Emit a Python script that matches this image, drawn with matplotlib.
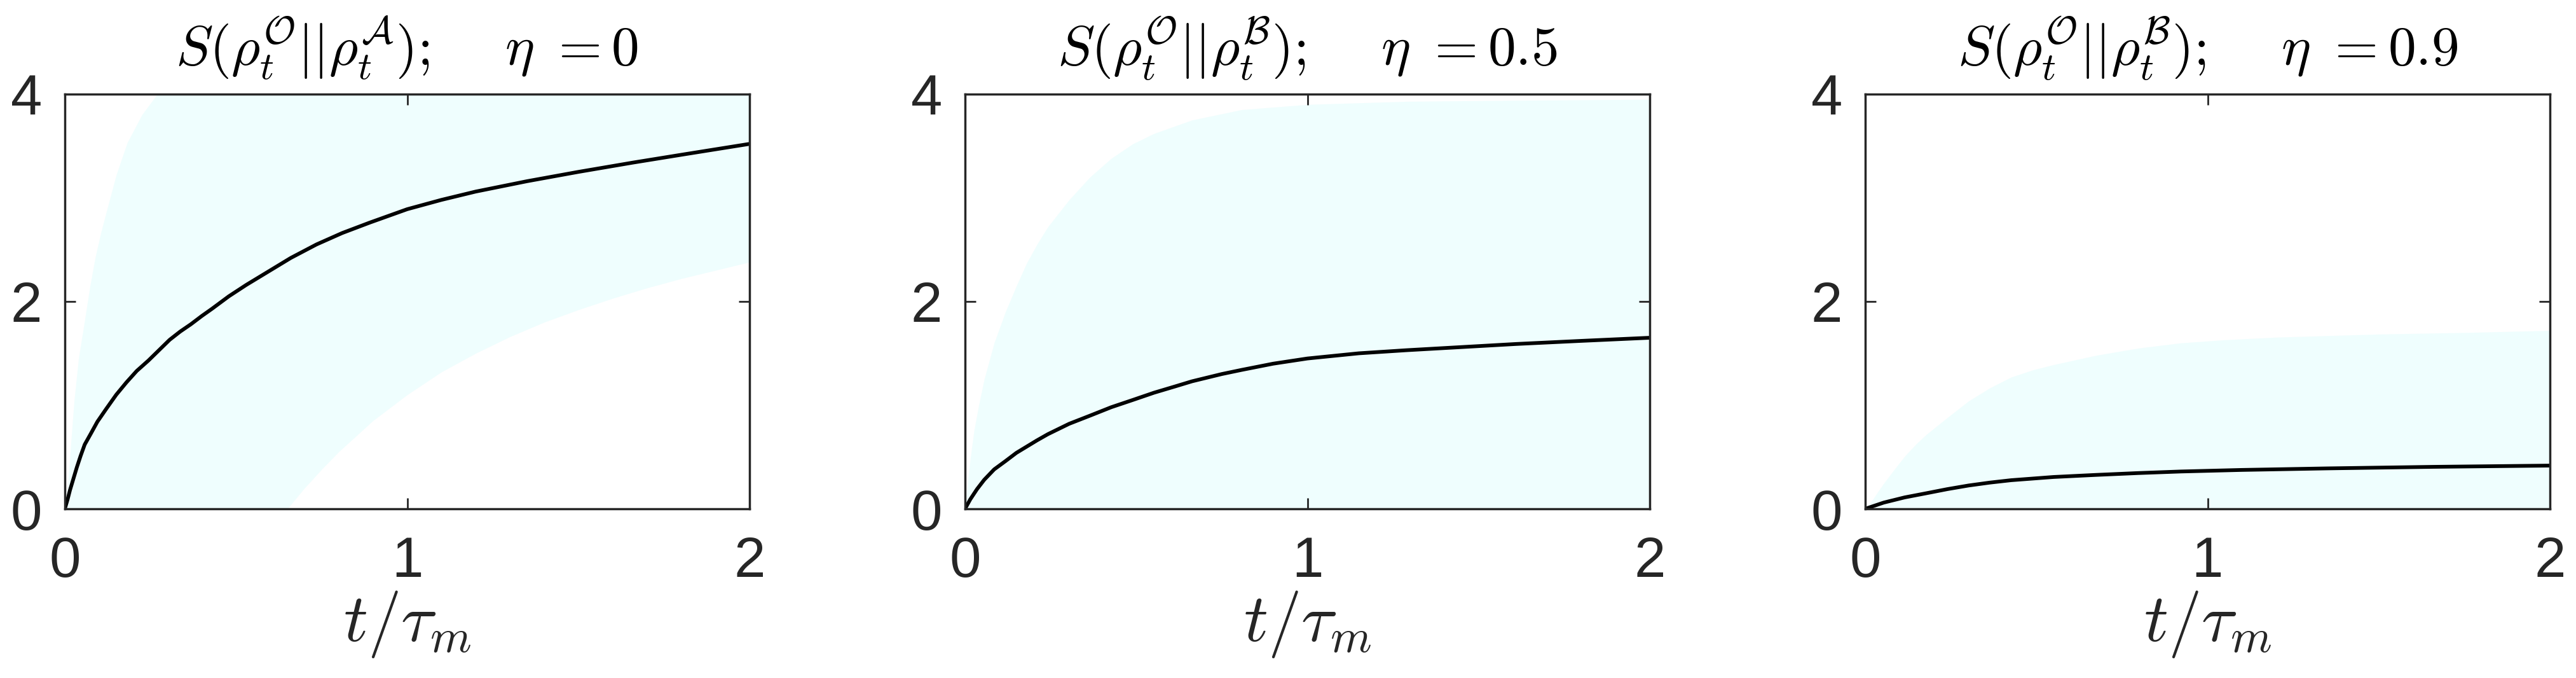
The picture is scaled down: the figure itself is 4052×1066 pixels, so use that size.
import matplotlib
matplotlib.use("Agg")
import matplotlib.pyplot as plt

plt.rcParams['font.family'] = ['Liberation Sans', 'DejaVu Sans']
plt.rcParams['mathtext.fontset'] = 'cm'

# panel 1: eta = 0  (O vs A)
t1_mean = [0, 0.008, 0.015, 0.025, 0.035, 0.046, 0.058, 0.075, 0.095, 0.12, 0.15, 0.18, 0.21, 0.244, 0.275, 0.306,
           0.337, 0.368, 0.4, 0.43, 0.479, 0.53, 0.58, 0.66, 0.735, 0.81, 0.89, 1.0, 1.1, 1.2, 1.35, 1.5, 1.66, 1.81, 2.0]
s1_mean = [0, 0.09, 0.18, 0.29, 0.40, 0.51, 0.62, 0.72, 0.84, 0.96, 1.10, 1.22, 1.33, 1.43, 1.53, 1.63,
           1.71, 1.78, 1.86, 1.93, 2.05, 2.16, 2.26, 2.42, 2.55, 2.66, 2.76, 2.89, 2.98, 3.06, 3.16, 3.25, 3.34, 3.42, 3.52]
t1_band = [0, 0.004, 0.009, 0.018, 0.027, 0.04, 0.058, 0.073, 0.089, 0.105, 0.12, 0.15, 0.182, 0.225, 0.27, 0.35,
           0.5, 0.65, 0.7, 0.75, 0.8, 0.9, 1.0, 1.1, 1.2, 1.3, 1.4, 1.5, 1.6, 1.7, 1.8, 1.9, 2.0]
s1_upper = [0, 0.12, 0.25, 0.65, 1.04, 1.45, 1.82, 2.14, 2.43, 2.66, 2.85, 3.22, 3.53, 3.80, 4.0, 4.4,
            4.9, 5.2, 5.3, 5.35, 5.4, 5.5, 5.6, 5.65, 5.7, 5.75, 5.8, 5.85, 5.9, 5.92, 5.95, 5.98, 6.0]
s1_lower = [0, 0, 0, 0, 0, 0, 0, 0, 0, 0, 0, 0, 0, 0, 0, 0,
            0, 0, 0.2, 0.38, 0.55, 0.85, 1.1, 1.32, 1.5, 1.66, 1.8, 1.92, 2.03, 2.13, 2.22, 2.30, 2.38]

# panel 2: eta = 0.5  (O vs B)
t2_mean = [0, 0.015, 0.035, 0.056, 0.085, 0.118, 0.15, 0.18, 0.21, 0.242, 0.304, 0.366, 0.427, 0.49, 0.552, 0.613,
           0.663, 0.75, 0.808, 0.9, 1.0, 1.15, 1.29, 1.45, 1.61, 1.8, 2.0]
s2_mean = [0, 0.09, 0.19, 0.28, 0.38, 0.46, 0.54, 0.60, 0.66, 0.72, 0.82, 0.90, 0.98, 1.05, 1.12, 1.18,
           1.23, 1.30, 1.34, 1.40, 1.45, 1.50, 1.53, 1.56, 1.59, 1.62, 1.65]
t2_band = [0, 0.007, 0.016, 0.026, 0.04, 0.056, 0.085, 0.118, 0.15, 0.18, 0.21, 0.242, 0.304, 0.365, 0.427, 0.49,
           0.552, 0.663, 0.808, 1.0, 1.29, 1.6, 2.0]
s2_upper = [0, 0.25, 0.50, 0.75, 1.00, 1.25, 1.60, 1.90, 2.15, 2.37, 2.55, 2.72, 2.98, 3.20, 3.38, 3.52,
            3.62, 3.75, 3.85, 3.90, 3.93, 3.94, 3.95]
s2_lower = [0] * len(t2_band)

# panel 3: eta = 0.9  (O vs B)
t3_mean = [0, 0.054, 0.115, 0.178, 0.24, 0.302, 0.364, 0.426, 0.55, 0.674, 0.798, 0.922, 1.1, 1.35, 1.66, 2.0]
s3_mean = [0, 0.06, 0.11, 0.15, 0.19, 0.225, 0.253, 0.276, 0.307, 0.327, 0.345, 0.36, 0.375, 0.39, 0.405, 0.417]
t3_band = [0, 0.012, 0.024, 0.038, 0.054, 0.085, 0.116, 0.147, 0.178, 0.24, 0.302, 0.364, 0.426, 0.49, 0.55,
           0.674, 0.798, 0.922, 1.05, 1.2, 1.35, 1.5, 1.75, 2.0]
s3_upper = [0, 0.05, 0.10, 0.17, 0.245, 0.38, 0.51, 0.62, 0.716, 0.88, 1.04, 1.166, 1.27, 1.34, 1.39,
            1.48, 1.55, 1.60, 1.63, 1.655, 1.67, 1.685, 1.70, 1.72]
s3_lower = [0] * len(t3_band)

titles = [r'$S(\rho_t^{\mathcal{O}}||\rho_t^{\mathcal{A}});\quad\;\eta\ {=}0$',
          r'$S(\rho_t^{\mathcal{O}}||\rho_t^{\mathcal{B}});\quad\;\eta\ {=}0.5$',
          r'$S(\rho_t^{\mathcal{O}}||\rho_t^{\mathcal{B}});\quad\;\eta\ {=}0.9$']

panels = [
    (t1_mean, s1_mean, t1_band, s1_lower, s1_upper),
    (t2_mean, s2_mean, t2_band, s2_lower, s2_upper),
    (t3_mean, s3_mean, t3_band, s3_lower, s3_upper),
]

W, H = 4052, 1066
fig = plt.figure(figsize=(W / 100, H / 100), dpi=100)

lefts = [102, 1518, 2934]   # pixel positions of the axes boxes
ax_w, ax_bot, ax_h = 1077, 266, 652

edge = '#262626'
for i, (tm, sm, tb, lo, up) in enumerate(panels):
    ax = fig.add_axes([lefts[i] / W, ax_bot / H, ax_w / W, ax_h / H])
    ax.fill_between(tb, lo, up, color='#effefe', linewidth=0)
    ax.plot(tm, sm, color='black', linewidth=4.2, solid_joinstyle='round')
    ax.set_xlim(0, 2)
    ax.set_ylim(0, 4)
    ax.set_xticks([0, 1, 2])
    ax.set_yticks([0, 2, 4])
    ax.tick_params(direction='in', top=True, right=True, length=12, width=2,
                   color=edge, labelcolor=edge, labelsize=64)
    ax.tick_params(axis='x', pad=30)
    ax.tick_params(axis='y', pad=26)
    for sp in ax.spines.values():
        sp.set_color(edge)
        sp.set_linewidth(2.5)
    ax.set_title(titles[i], fontsize=63, pad=32, color='black')
    ax.set_xlabel(r'$t/\tau_m$', fontsize=76, labelpad=0, color=edge)

fig.savefig('out.png', dpi=100)
